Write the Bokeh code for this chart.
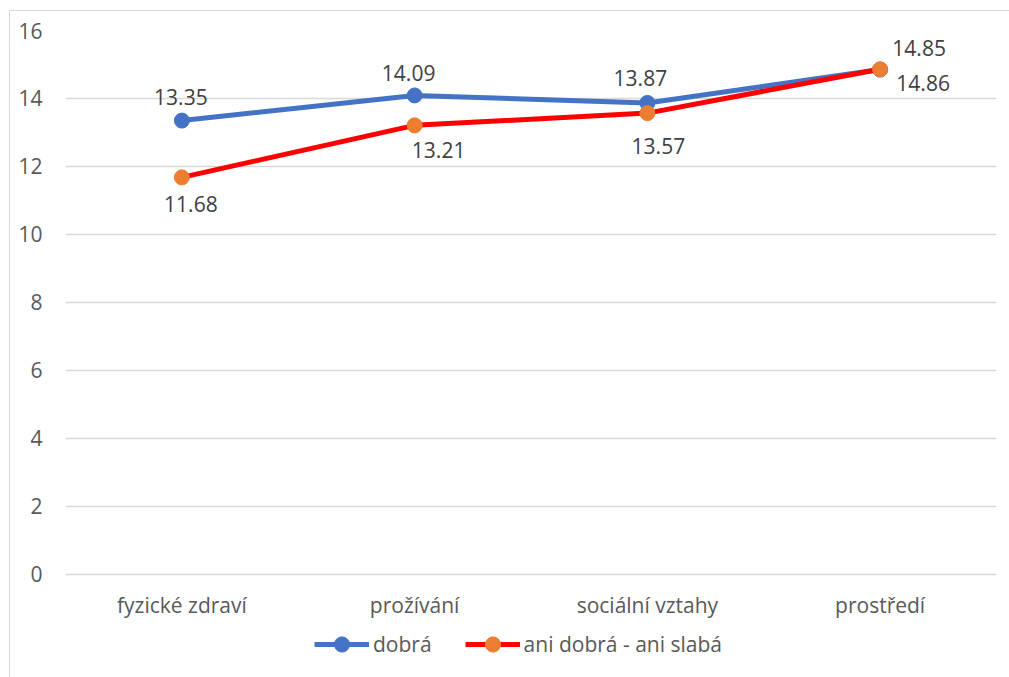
from bokeh.plotting import figure
from bokeh.layouts import column
from bokeh.models import (FactorRange, Range1d, FixedTicker, Legend, LegendItem,
                          ColumnDataSource)
from bokeh.core.properties import value
from bokeh.embed import file_html
from bokeh.resources import INLINE

categories = ["fyzické zdraví", "prožívání", "sociální vztahy", "prostředí"]
dobra = [13.35, 14.09, 13.87, 14.85]
ani = [11.68, 13.21, 13.57, 14.86]
series_names = ["dobrá", "ani dobrá - ani slabá"]
y_ticks = [0, 2, 4, 6, 8, 10, 12, 14, 16]

# label placement (screen px offsets)
dobra_dx = [-1, -6, -7, 39]
dobra_dy = [-24, -22, -25, -22]
ani_dx = [9, 24, 11, 43]
ani_dy = [27, 25, 33, 14]

FONT = "Open Sans"
FS = "21px"
AXIS_COLOR = "#595959"
LABEL_COLOR = "#404040"
BLUE, RED, ORANGE = "#4472C4", "#FF0000", "#ED7D31"

p = figure(width=999, height=614, output_backend="svg", toolbar_location=None,
           x_range=FactorRange(factors=categories, range_padding=0),
           y_range=Range1d(-0.06, 16))
p.min_border_left = 55
p.min_border_right = 13
p.min_border_top = 19
p.min_border_bottom = 49
p.outline_line_color = None
p.background_fill_color = "white"
p.border_fill_color = "white"

p.xgrid.grid_line_color = None
p.ygrid.grid_line_color = "#D9D9D9"
p.ygrid.grid_line_width = 1.3
p.yaxis.ticker = FixedTicker(ticks=y_ticks)

for ax in (p.xaxis[0], p.yaxis[0]):
    ax.axis_line_color = None
    ax.major_tick_line_color = None
    ax.minor_tick_line_color = None
    ax.major_tick_out = 0
    ax.major_tick_in = 0
    ax.minor_tick_out = 0
    ax.major_label_text_font = FONT
    ax.major_label_text_font_size = FS
    ax.major_label_text_color = AXIS_COLOR
p.yaxis.major_label_standoff = 23
p.xaxis.major_label_standoff = 14

src1 = ColumnDataSource(dict(x=categories, y=dobra, t=[f"{v:.2f}" for v in dobra],
                             dx=dobra_dx, dy=dobra_dy))
src2 = ColumnDataSource(dict(x=categories, y=ani, t=[f"{v:.2f}" for v in ani],
                             dx=ani_dx, dy=ani_dy))

def draw_series(fig, src, line_color, marker_color):
    ln = fig.line("x", "y", source=src, line_color=line_color, line_width=5,
                  line_join="round")
    mk = fig.scatter("x", "y", source=src, size=15, fill_color=marker_color,
                     line_color=marker_color)
    return ln, mk

draw_series(p, src1, BLUE, BLUE)
draw_series(p, src2, RED, ORANGE)

for src in (src1, src2):
    p.text("x", "y", text="t", source=src, x_offset="dx", y_offset="dy",
           text_font=value(FONT), text_font_size=FS, text_color=LABEL_COLOR,
           text_align="center", text_baseline="middle")

# legend strip below the chart (its series lie outside its own view range)
pl = figure(width=999, height=52, output_backend="svg", toolbar_location=None,
            x_range=p.x_range, y_range=Range1d(100, 101),
            x_axis_type=None, y_axis_type=None)
pl.min_border = 0
pl.outline_line_color = None
pl.grid.visible = False
pl.border_fill_color = "white"
ll1, lm1 = draw_series(pl, src1, BLUE, BLUE)
ll2, lm2 = draw_series(pl, src2, RED, ORANGE)

legend = Legend(items=[LegendItem(label=series_names[0], renderers=[ll1, lm1]),
                       LegendItem(label=series_names[1], renderers=[ll2, lm2])],
                orientation="horizontal", location=(249, 14),
                glyph_width=55, glyph_height=38, label_standoff=4, spacing=33,
                padding=0, margin=0, border_line_color=None,
                background_fill_alpha=0,
                label_text_font=FONT, label_text_font_size=FS,
                label_text_color=AXIS_COLOR)
pl.add_layout(legend, "center")

layout = column(p, pl, spacing=0,
                styles={"margin-left": "9px", "margin-top": "10px",
                        "border-left": "1px solid #D9D9D9",
                        "border-top": "1px solid #D9D9D9"})

open("out.html", "w").write(file_html(layout, INLINE))
